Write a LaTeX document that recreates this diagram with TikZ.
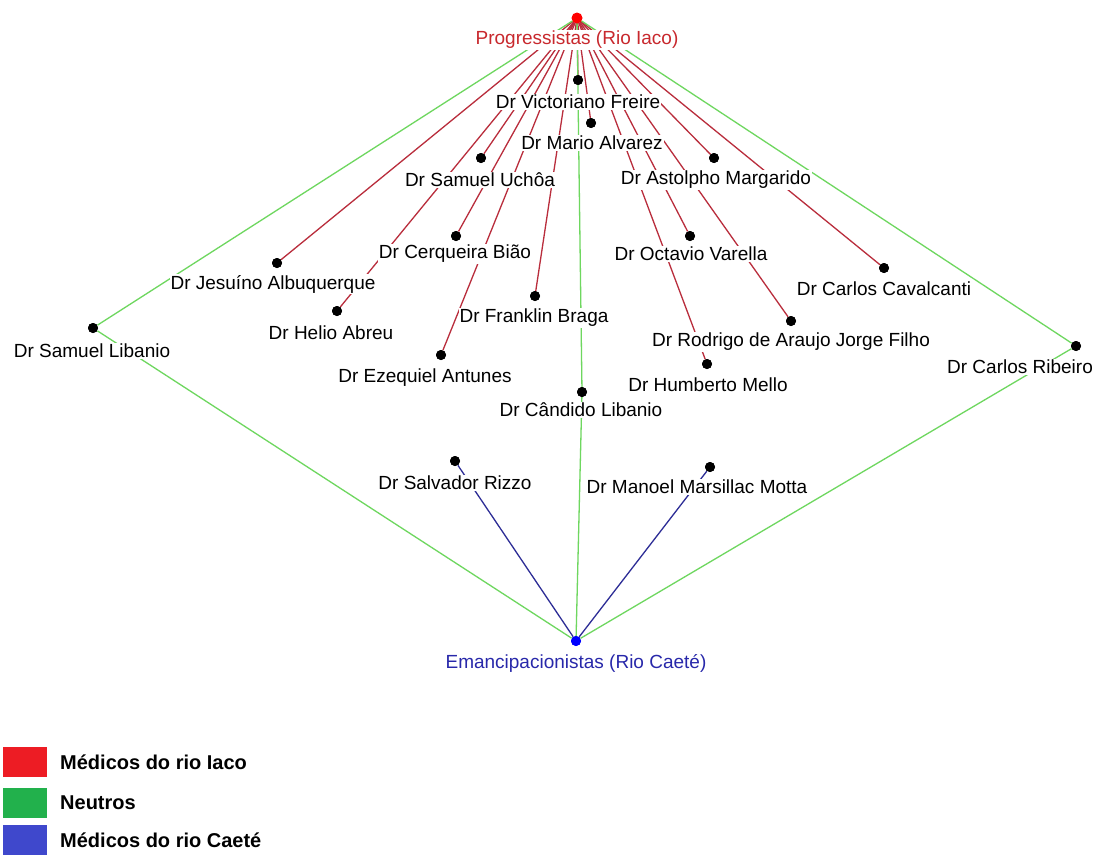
\documentclass[tikz,border=0pt]{standalone}
\usepackage{fontspec}
\setmainfont{Liberation Sans}
\begin{document}
\begin{tikzpicture}[x=1pt,y=-1pt,
  dot/.style={circle,fill=black,inner sep=0pt,minimum size=10pt},
  lbl/.style={fill=white,inner sep=1pt,font=\fontsize{19}{22}\selectfont},
  redl/.style={draw=redline,line width=1.3pt},
  grnl/.style={draw=grnline,line width=1.3pt},
  blul/.style={draw=bluline,line width=1.3pt},
  legbox/.style={minimum width=44pt,minimum height=30pt,inner sep=0pt},
  legtxt/.style={anchor=west,inner sep=0pt,font=\fontsize{20}{22}\selectfont\bfseries}]
\definecolor{redline}{RGB}{185,45,60}
\definecolor{grnline}{RGB}{110,215,95}
\definecolor{bluline}{RGB}{45,45,150}
\definecolor{progred}{RGB}{200,40,45}
\definecolor{emanblue}{RGB}{40,40,170}
\definecolor{legred}{RGB}{237,28,36}
\definecolor{leggrn}{RGB}{34,177,76}
\definecolor{legblu}{RGB}{63,72,204}
\useasboundingbox (0,0) rectangle (1100,854);
\fill[white] (0,0) rectangle (1100,854);
% hub and member dots
\node[dot,fill=red] (prog) at (577,18) {};
\node[dot,fill=blue] (eman) at (576,641) {};
\node[dot] (vf) at (578,80) {};
\node[dot] (ma) at (591,123) {};
\node[dot] (su) at (481,158) {};
\node[dot] (am) at (714,158) {};
\node[dot] (cb) at (456,236) {};
\node[dot] (ov) at (690,236) {};
\node[dot] (ja) at (277,263) {};
\node[dot] (cc) at (884,268) {};
\node[dot] (fb) at (535,296) {};
\node[dot] (ha) at (337,311) {};
\node[dot] (sl) at (93,328) {};
\node[dot] (rj) at (791,321) {};
\node[dot] (cr) at (1076,346) {};
\node[dot] (hm) at (707,364) {};
\node[dot] (ea) at (441,355) {};
\node[dot] (cl) at (582,392) {};
\node[dot] (sr) at (455,461) {};
\node[dot] (mm) at (710,467) {};
% connectors
\foreach \t in {vf,ma,su,am,cb,ov,ja,cc,fb,ha,rj,hm,ea} \draw[redl] (prog) -- (\t);
\foreach \t in {sl,cr,cl} {\draw[grnl] (prog) -- (\t); \draw[grnl] (eman) -- (\t);}
\foreach \t in {sr,mm} \draw[blul] (eman) -- (\t);
% labels
\node[lbl,text=progred] (progl) at (577,40) {Progressistas (Rio Iaco)};
\node[lbl,text=emanblue] (emanl) at (576,663) {Emancipacionistas (Rio Caeté)};
\node[lbl] (vfl) at (578,102) {Dr Victoriano Freire};
\node[lbl] (mal) at (592,143) {Dr Mario Alvarez};
\node[lbl] (sul) at (480,180) {Dr Samuel Uchôa};
\node[lbl] (aml) at (716,180) {Dr Astolpho Margarido};
\node[lbl] (cbl) at (455,254) {Dr Cerqueira Bião};
\node[lbl] (ovl) at (691,254) {Dr Octavio Varella};
\node[lbl] (jal) at (273,284) {Dr Jesuíno Albuquerque};
\node[lbl] (ccl) at (884,289) {Dr Carlos Cavalcanti};
\node[lbl] (fbl) at (534,318) {Dr Franklin Braga};
\node[lbl] (hal) at (331,333) {Dr Helio Abreu};
\node[lbl] (sll) at (92,351) {Dr Samuel Libanio};
\node[lbl] (rjl) at (791,342) {Dr Rodrigo de Araujo Jorge Filho};
\node[lbl] (crl) at (1020,367) {Dr Carlos Ribeiro};
\node[lbl] (hml) at (708,385) {Dr Humberto Mello};
\node[lbl] (eal) at (425,378) {Dr Ezequiel Antunes};
\node[lbl] (cll) at (581,410) {Dr Cândido Libanio};
\node[lbl] (srl) at (455,483) {Dr Salvador Rizzo};
\node[lbl] (mml) at (697,487) {Dr Manoel Marsillac Motta};
% redraw dots on top
\foreach \t in {vf,ma,su,am,cb,ov,ja,cc,fb,ha,sl,rj,cr,hm,ea,cl,sr,mm}
  \fill (\t) circle (5pt);
\fill[red] (prog) circle (5.5pt);
\fill[blue] (eman) circle (5pt);
% legend
\node[legbox,fill=legred] (lr) at (25,762) {};
\node[legbox,fill=leggrn] (lg) at (25,803) {};
\node[legbox,fill=legblu] (lb) at (25,840) {};
\node[legtxt] (lrt) at (60,762) {Médicos do rio Iaco};
\node[legtxt] (lgt) at (60,803) {Neutros};
\node[legtxt] (lbt) at (60,840) {Médicos do rio Caeté};
\end{tikzpicture}
\end{document}
